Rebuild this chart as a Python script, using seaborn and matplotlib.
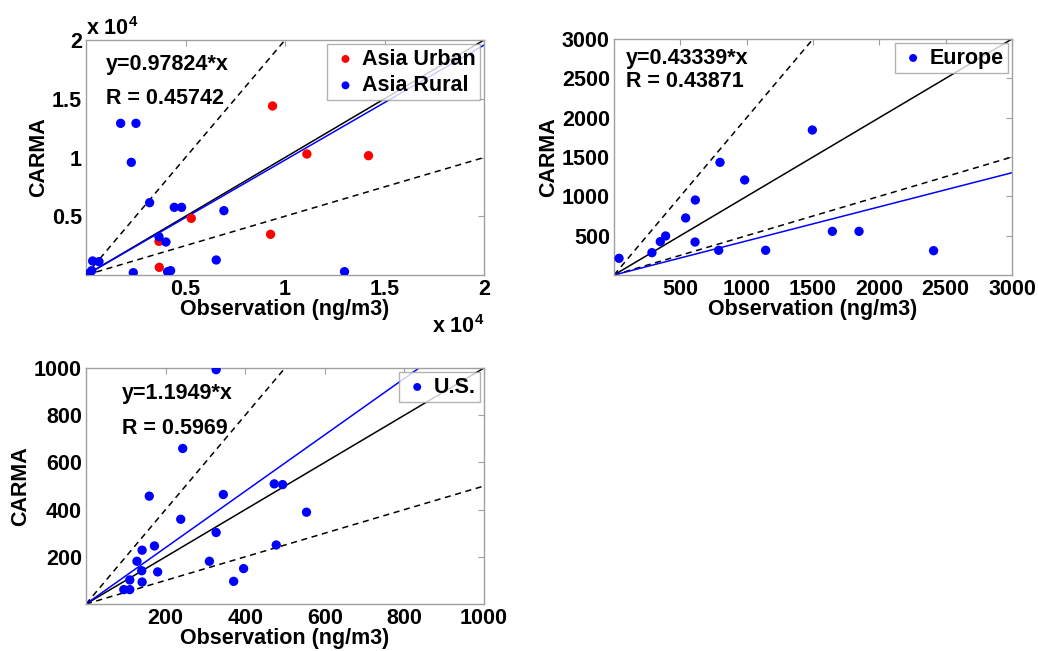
import numpy as np
import pandas as pd
import matplotlib
matplotlib.use("Agg")
import matplotlib.pyplot as plt
import seaborn as sns

# ---------------- data ----------------
asia_urban_obs = [9374, 11099, 14196, 5290, 9274, 3666, 3683]
asia_urban_carma = [14384, 10298, 10156, 4823, 3461, 2865, 653]

asia_rural_obs = [1741, 2511, 2277, 3197, 4436, 4804, 6930, 3666, 4018, 6545,
                  12990, 2377, 4101, 4252, 335, 653, 285, 167]
asia_rural_carma = [12908, 12908, 9589, 6156, 5759, 5759, 5475, 3263, 2809, 1277,
                    284, 199, 284, 369, 1192, 1135, 369, 142]

europe_obs = [38, 286, 349, 389, 540, 613, 611, 799, 789, 985, 1143, 1495, 1646, 1847, 2409]
europe_carma = [212, 284, 424, 496, 725, 953, 419, 1432, 314, 1208, 314, 1843, 555, 555, 309]

us_obs = [327, 243, 159, 345, 473, 494, 238, 554, 327, 172, 141, 478, 128, 310,
          140, 180, 396, 110, 141, 371, 95, 110]
us_carma = [993, 659, 457, 464, 509, 506, 359, 389, 303, 246, 228, 250, 181, 181,
            141, 136, 150, 102, 93, 96, 61, 61]

fit_slopes = {"asia": 0.97824, "europe": 0.43339, "us": 1.1949}
fit_r = {"asia": 0.45742, "europe": 0.43871, "us": 0.5969}
ref_slopes = [1.0, 2.0, 0.5]

asia_ticks = [5000, 10000, 15000, 20000]
asia_ticklabels = ["0.5", "1", "1.5", "2"]
europe_ticks = [500, 1000, 1500, 2000, 2500, 3000]
us_ticks = [200, 400, 600, 800, 1000]

# ---------------- style ----------------
sns.set_style("white")
plt.rcParams["font.family"] = ["Liberation Sans", "DejaVu Sans"]
plt.rcParams["font.weight"] = "bold"
plt.rcParams["text.color"] = "black"
plt.rcParams["axes.labelcolor"] = "black"
plt.rcParams["xtick.color"] = "black"
plt.rcParams["ytick.color"] = "black"
plt.rcParams["mathtext.fontset"] = "custom"
plt.rcParams["mathtext.rm"] = "Liberation Sans:bold"
plt.rcParams["mathtext.bf"] = "Liberation Sans:bold"

FS = 15.5
SPINE = "#a0a0a0"

fig = plt.figure(figsize=(10.38, 6.51), dpi=100)
W, H = 1038, 651


def axes_px(x0, y0, x1, y1):
    return fig.add_axes([x0 / W, 1 - y1 / H, (x1 - x0) / W, (y1 - y0) / H])


ax1 = axes_px(86, 40, 484, 275)
ax2 = axes_px(614, 39, 1012, 275)
ax3 = axes_px(86, 368, 484, 604)


def style_axes(ax, lim, ticks, ticklabels=None):
    ax.set_xlim(0, lim)
    ax.set_ylim(0, lim)
    ax.set_xticks(ticks)
    ax.set_yticks(ticks)
    if ticklabels is not None:
        ax.set_xticklabels(ticklabels)
        ax.set_yticklabels(ticklabels)
    for s in ax.spines.values():
        s.set_color(SPINE)
        s.set_linewidth(1.0)
        s.set_visible(True)
    ax.tick_params(direction="in", length=4, width=0.8, color=SPINE,
                   labelcolor="black", top=True, right=True, labelsize=FS, pad=3)
    for lab in ax.get_xticklabels() + ax.get_yticklabels():
        lab.set_fontweight("bold")
    ax.set_xlabel("Observation (ng/m3)", fontsize=FS, fontweight="bold",
                  labelpad=-1, color="black")
    ax.set_ylabel("CARMA", fontsize=FS, fontweight="bold", labelpad=2,
                  color="black")


def ref_lines(ax, lim, slope):
    xs = np.array([0, lim])
    sns.lineplot(x=xs, y=ref_slopes[1] * xs, ax=ax, color="black", lw=1.1,
                 linestyle=(0, (4, 3)))
    sns.lineplot(x=xs, y=ref_slopes[2] * xs, ax=ax, color="black", lw=1.1,
                 linestyle=(0, (4, 3)))
    sns.lineplot(x=xs, y=ref_slopes[0] * xs, ax=ax, color="black", lw=1.1)
    sns.lineplot(x=xs, y=slope * xs, ax=ax, color="blue", lw=1.1)


def legend(ax):
    leg = ax.legend(loc="upper right", prop={"size": FS, "weight": "bold"},
                    frameon=True, fancybox=False, borderaxespad=0.2,
                    handletextpad=0.1, handlelength=1.3, borderpad=0.2,
                    labelspacing=0.25, markerscale=0.85)
    leg.get_frame().set_edgecolor(SPINE)
    leg.get_frame().set_linewidth(1.0)
    for t in leg.get_texts():
        t.set_color("black")


MS = 45

# Panel 1: Asia
ref_lines(ax1, 20000, fit_slopes["asia"])
sns.scatterplot(x=asia_urban_obs, y=asia_urban_carma, ax=ax1, color="red",
                s=MS, edgecolor="none", label="Asia Urban", zorder=3)
sns.scatterplot(x=asia_rural_obs, y=asia_rural_carma, ax=ax1, color="blue",
                s=MS, edgecolor="none", label="Asia Rural", zorder=3)
style_axes(ax1, 20000, asia_ticks, asia_ticklabels)
legend(ax1)
ax1.text(0.05, 0.894, f"y={fit_slopes['asia']}*x", transform=ax1.transAxes,
         fontsize=FS, fontweight="bold", va="center")
ax1.text(0.05, 0.749, f"R = {fit_r['asia']}", transform=ax1.transAxes,
         fontsize=FS, fontweight="bold", va="center")
ax1.text(0.0, 1.0, r"x 10$^{4}$", transform=ax1.transAxes, fontsize=FS,
         fontweight="bold", va="bottom", ha="left")
ax1.text(1.0, -0.17, r"x 10$^{4}$", transform=ax1.transAxes, fontsize=FS,
         fontweight="bold", va="top", ha="right")

# Panel 2: Europe
ref_lines(ax2, 3000, fit_slopes["europe"])
sns.scatterplot(x=europe_obs, y=europe_carma, ax=ax2, color="blue",
                s=MS, edgecolor="none", label="Europe", zorder=3)
style_axes(ax2, 3000, europe_ticks)
legend(ax2)
ax2.text(0.03, 0.919, f"y={fit_slopes['europe']}*x", transform=ax2.transAxes,
         fontsize=FS, fontweight="bold", va="center")
ax2.text(0.03, 0.822, f"R = {fit_r['europe']}", transform=ax2.transAxes,
         fontsize=FS, fontweight="bold", va="center")

# Panel 3: U.S.
ref_lines(ax3, 1000, fit_slopes["us"])
sns.scatterplot(x=us_obs, y=us_carma, ax=ax3, color="blue",
                s=MS, edgecolor="none", label="U.S.", zorder=3)
style_axes(ax3, 1000, us_ticks)
legend(ax3)
ax3.text(0.09, 0.894, f"y={fit_slopes['us']}*x", transform=ax3.transAxes,
         fontsize=FS, fontweight="bold", va="center")
ax3.text(0.09, 0.742, f"R = {fit_r['us']}", transform=ax3.transAxes,
         fontsize=FS, fontweight="bold", va="center")

fig.savefig("out.png", dpi=100)
